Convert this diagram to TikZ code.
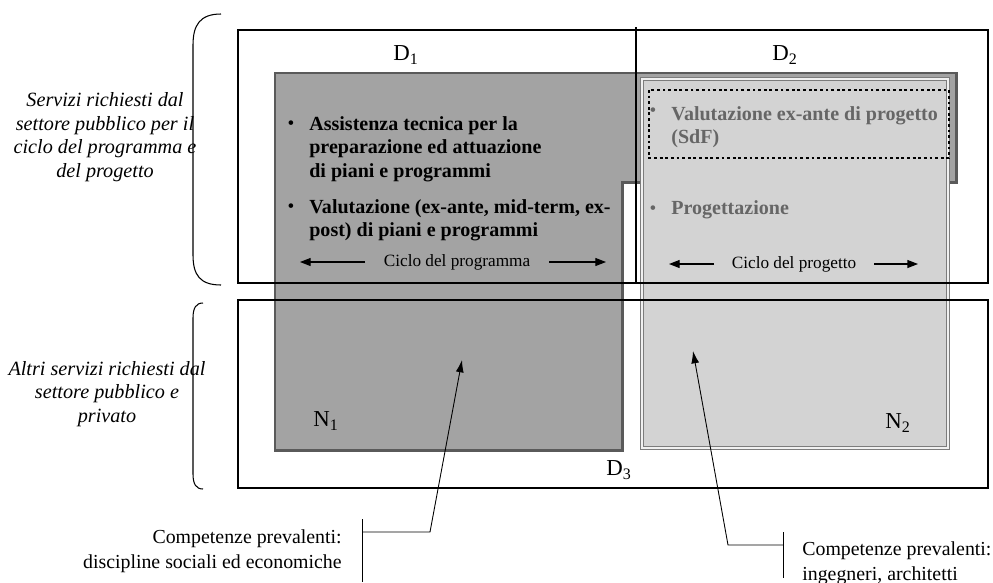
\documentclass[tikz,border=0pt]{standalone}
\usepackage{fontspec}
\setmainfont{Liberation Serif}
\usetikzlibrary{arrows.meta}

\definecolor{grigioNuno}{HTML}{A3A3A3}
\definecolor{bordoNuno}{HTML}{5A5A5A}
\definecolor{grigioNdue}{HTML}{D3D3D3}
\definecolor{bordoNdue}{HTML}{7C7C7C}
\definecolor{testoNdue}{HTML}{666666}

\tikzset{
  dominio/.style={draw=black, line width=1.6pt},
  etich/.style={inner sep=0pt, font=\fontsize{13}{15}\selectfont},
  voce/.style={inner sep=0pt, anchor=west, align=left, font=\fontsize{11.4}{13.3}\selectfont\bfseries},
  puntino/.style={inner sep=0pt, font=\fontsize{11}{13.3}\selectfont},
  settore/.style={inner sep=0pt, align=center, font=\fontsize{11.5}{13.4}\selectfont\itshape},
  ciclo/.style={inner sep=0pt, font=\fontsize{9.8}{11}\selectfont},
  freccina/.style={line width=0.6pt, -{Triangle[length=6pt,width=4.5pt]}},
  richiamo/.style={line width=0.5pt, -{Latex[length=7pt,width=4.5pt]}},
  nota/.style={inner sep=0pt, font=\fontsize{11.3}{14}\selectfont}
}

\begin{document}
\begin{tikzpicture}[x=0.02cm, y=-0.02cm]

\useasboundingbox (0,0) rectangle (993,582);

% Area N1 (programma)
\draw[fill=grigioNuno, draw=bordoNuno, line width=1.7pt]
  (275,73) -- (956,73) -- (956,182) -- (622,182) -- (622,450) -- (275,450) -- cycle;

% Area N2 (progetto)
\draw[fill=grigioNdue, draw=bordoNdue, line width=0.5pt, double=gray!12, double distance=1.2pt]
  (642,79) rectangle (948,448);

% SdF
\draw[line width=1.6pt, dash pattern=on 1.6pt off 1.6pt] (649,90) rectangle (949,158);

% Domini D1, D2, D3
\draw[dominio] (238,30) rectangle (988,283);
\draw[black, line width=1.1pt] (636,27) -- (636,283);
\draw[dominio] (238,300) rectangle (988,488);

\node[etich] (d1) at (406,55) {D\textsubscript{1}};
\node[etich] (d2) at (785,55) {D\textsubscript{2}};
\node[etich] (d3) at (619,470) {D\textsubscript{3}};
\node[etich] (n1) at (326,421) {N\textsubscript{1}};
\node[etich] (n2) at (898,423) {N\textsubscript{2}};

% Servizi del programma
\node[puntino] (b1) at (291,125) {\textbullet};
\node[voce] (assist) at (309,149) {Assistenza tecnica per la\\preparazione ed attuazione\\di piani e programmi};
\node[puntino] (b2) at (291,208) {\textbullet};
\node[voce] (valut) at (309,220) {Valutazione (ex-ante, mid-term, ex-\\post) di piani e programmi};

% Servizi del progetto
\node[puntino, text=testoNdue] (b3) at (653,112) {\textbullet};
\node[voce, text=testoNdue] (sdf) at (671,127) {Valutazione ex-ante di progetto\\(SdF)};
\node[puntino, text=testoNdue] (b4) at (653,210) {\textbullet};
\node[voce, text=testoNdue] (proget) at (671,210) {Progettazione};

% Cicli
\node[ciclo] (cprog) at (457,262) {Ciclo del programma};
\coordinate (cpa) at (365,262);
\coordinate (cpb) at (300,262);
\coordinate (cpc) at (549,262);
\coordinate (cpd) at (606,262);
\draw[freccina] (cpa) -- (cpb);
\draw[freccina] (cpc) -- (cpd);

\node[ciclo] (cproj) at (794,264) {Ciclo del progetto};
\coordinate (cqa) at (714,264);
\coordinate (cqb) at (669,264);
\coordinate (cqc) at (874,264);
\coordinate (cqd) at (918,264);
\draw[freccina] (cqa) -- (cqb);
\draw[freccina] (cqc) -- (cqd);

% Parentesi a sinistra
\draw[line width=0.6pt] (221,14) .. controls (200,14) and (193,25) .. (193,45) -- (193,255) .. controls (193,275) and (200,285) .. (221,285);
\draw[line width=0.6pt] (203,303) .. controls (196,303) and (193,308) .. (193,318) -- (193,474) .. controls (193,484) and (196,489) .. (203,489);

\node[settore] (pubbl) at (105,137) {Servizi richiesti dal\\settore pubblico per il\\ciclo del programma e\\del progetto};
\node[settore] (altri) at (107,394) {Altri servizi richiesti dal\\settore pubblico e\\privato};

% Competenze
\node[nota, anchor=east, align=right] (comp1) at (342,551) {Competenze prevalenti:\\discipline sociali ed economiche};
\coordinate (sb1) at (362,519);
\coordinate (sb2) at (362,582);
\draw[line width=0.5pt] (sb1) -- (sb2);
\coordinate (att1) at (362,532);
\coordinate (gom1) at (430,532);
\coordinate (pun1) at (462,360);
\draw[richiamo] (att1) -- (gom1) -- (pun1);

\node[nota, anchor=west, align=left] (comp2) at (802,563) {Competenze prevalenti:\\ingegneri, architetti};
\coordinate (db1) at (783,532);
\coordinate (db2) at (783,578);
\draw[line width=0.5pt] (db1) -- (db2);
\coordinate (att2) at (783,545);
\coordinate (gom2) at (728,545);
\coordinate (pun2) at (693,351);
\draw[richiamo] (att2) -- (gom2) -- (pun2);

\end{tikzpicture}
\end{document}
